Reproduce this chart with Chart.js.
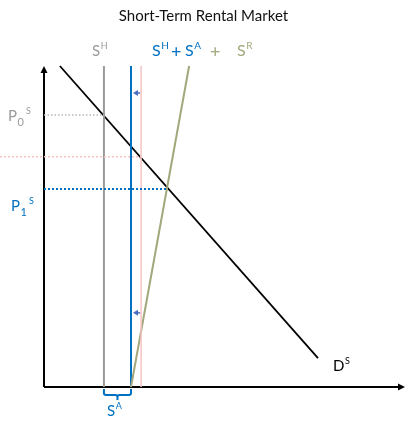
<!DOCTYPE html>
<html>
<head>
<meta charset="utf-8">
<script src="https://cdn.jsdelivr.net/npm/chart.js@4"></script>
<style>body{margin:0;background:#fff}</style>
</head>
<body>
<canvas id="chart" width="407" height="426"></canvas>
<script>
// quantity and price both in 0-10 chart units
const demand = [{x: 0.44, y: 10.0}, {x: 7.59, y: 0.9}];
const supplyH = [{x: 1.66, y: 0}, {x: 1.66, y: 10}];
const supplyHA = [{x: 2.41, y: 0}, {x: 2.41, y: 10}];
const supplyOld = [{x: 2.69, y: 0}, {x: 2.69, y: 10}];
const supplyR = [{x: 2.41, y: 0}, {x: 4.02, y: 10}];
const priceP0 = [{x: 0, y: 8.47}, {x: 1.66, y: 8.47}];
const priceOld = [{x: -1.22, y: 7.17}, {x: 2.69, y: 7.17}];
const priceP1 = [{x: 0, y: 6.17}, {x: 3.42, y: 6.17}];
const arrowLevels = [9.16, 2.31];

const BLUE = '#0070C0', GRAY = '#9a9a9a', PINK = '#f6c4c4', GREEN = '#a3a87c';
const FONT = 'Lato, "Open Sans", sans-serif';

function line(data, color, width, dash) {
    return {
        data: data,
        borderColor: color,
        borderWidth: width,
        borderDash: dash || [],
        pointRadius: 0,
        showLine: true,
        fill: false,
        clip: false,
        tension: 0
    };
}

// letter with a superscript and/or subscript
function supText(ctx, txt, sup, sub, px, py, size, color) {
    ctx.fillStyle = color;
    ctx.font = size + 'px ' + FONT;
    ctx.textBaseline = 'middle';
    ctx.textAlign = 'left';
    ctx.fillText(txt, px, py);
    let x = px + ctx.measureText(txt).width + 0.5;
    let end = x;
    if (sub) {
        ctx.font = Math.round(size * 0.72) + 'px ' + FONT;
        ctx.fillText(sub, x, py + size * 0.4);
        end = x + ctx.measureText(sub).width + 2;
    }
    if (sup) {
        ctx.font = Math.round(size * 0.62) + 'px ' + FONT;
        let sx = sub ? end : x;
        ctx.fillText(sup, sx, py - size * 0.3);
        end = sx + ctx.measureText(sup).width;
    }
    return end;
}

function plainText(ctx, txt, px, py, size, color) {
    ctx.fillStyle = color;
    ctx.font = size + 'px ' + FONT;
    ctx.textBaseline = 'middle';
    ctx.textAlign = 'left';
    ctx.fillText(txt, px, py);
}

const extras = {
    id: 'extras',
    beforeDatasetsDraw(chart) {
        const {ctx, scales: {x, y}} = chart;
        const x0 = x.getPixelForValue(0), y0 = y.getPixelForValue(0);
        const top = y.getPixelForValue(10);
        ctx.save();
        ctx.strokeStyle = '#000';
        ctx.fillStyle = '#000';
        ctx.lineWidth = 2;
        ctx.beginPath();
        ctx.moveTo(x0, y0); ctx.lineTo(x0, top + 4);
        ctx.moveTo(x0, y0); ctx.lineTo(chart.chartArea.right - 4, y0);
        ctx.stroke();
        // arrow heads
        ctx.beginPath();
        ctx.moveTo(x0, top); ctx.lineTo(x0 - 3.5, top + 7); ctx.lineTo(x0 + 3.5, top + 7);
        ctx.closePath(); ctx.fill();
        let r = chart.chartArea.right;
        ctx.beginPath();
        ctx.moveTo(r, y0); ctx.lineTo(r - 7, y0 - 3.5); ctx.lineTo(r - 7, y0 + 3.5);
        ctx.closePath(); ctx.fill();
        ctx.restore();
    },
    afterDatasetsDraw(chart) {
        const {ctx, scales: {x, y}} = chart;
        ctx.save();
        // small shift arrows from old supply to new
        ctx.strokeStyle = '#4a6fc0';
        ctx.fillStyle = '#4a6fc0';
        ctx.lineWidth = 1.5;
        arrowLevels.forEach(function (p) {
            let py = y.getPixelForValue(p);
            let xa = x.getPixelForValue(supplyHA[0].x) + 2;
            let xb = x.getPixelForValue(supplyOld[0].x) - 1;
            ctx.beginPath();
            ctx.moveTo(xb, py); ctx.lineTo(xa + 4, py); ctx.stroke();
            ctx.beginPath();
            ctx.moveTo(xa, py); ctx.lineTo(xa + 5, py - 3); ctx.lineTo(xa + 5, py + 3);
            ctx.closePath(); ctx.fill();
        });
        // brace under S^A
        let bl = x.getPixelForValue(supplyH[0].x), br = x.getPixelForValue(supplyHA[0].x);
        let by = y.getPixelForValue(0) + 2;
        let bm = (bl + br) / 2;
        ctx.strokeStyle = BLUE;
        ctx.lineWidth = 2;
        ctx.beginPath();
        ctx.moveTo(bl, by);
        ctx.lineTo(bl, by + 4);
        ctx.quadraticCurveTo(bl, by + 6, bl + 2, by + 6);
        ctx.lineTo(bm - 2, by + 6);
        ctx.quadraticCurveTo(bm, by + 6, bm, by + 8);
        ctx.lineTo(bm, by + 11);
        ctx.moveTo(bm, by + 8);
        ctx.quadraticCurveTo(bm, by + 6, bm + 2, by + 6);
        ctx.lineTo(br - 2, by + 6);
        ctx.quadraticCurveTo(br, by + 6, br, by + 4);
        ctx.lineTo(br, by);
        ctx.stroke();

        // title
        ctx.fillStyle = '#111';
        ctx.font = '15px ' + FONT;
        ctx.textAlign = 'center';
        ctx.textBaseline = 'middle';
        ctx.fillText('Short-Term Rental Market', chart.width / 2, 16);

        supText(ctx, 'S', 'H', null, 92, 51, 15, GRAY);
        supText(ctx, 'S', 'H', null, 152, 51, 16, BLUE);
        plainText(ctx, '+', 171, 52, 18, BLUE);
        supText(ctx, 'S', 'A', null, 185, 51, 16, BLUE);
        plainText(ctx, '+', 210, 52, 18, GREEN);
        supText(ctx, 'S', 'R', null, 237, 51, 16, GREEN);
        supText(ctx, 'P', 'S', '0', 8, 116, 15, GRAY);
        supText(ctx, 'P', 'S', '1', 11, 206, 15, BLUE);
        supText(ctx, 'D', 'S', null, 333, 366, 15, '#000');
        supText(ctx, 'S', 'A', null, 107, 411, 15, BLUE);
        ctx.restore();
    }
};

const config = {
    type: 'scatter',
    data: {
        datasets: [
            line(priceOld, PINK, 1.5, [2, 2]),
            line(priceP0, '#b8b8b8', 1.5, [1.5, 2]),
            line(priceP1, BLUE, 2, [2, 2]),
            line(supplyOld, PINK, 1.5),
            line(supplyH, GRAY, 2),
            line(supplyR, GREEN, 2),
            line(supplyHA, BLUE, 2),
            line(demand, '#000', 1.8)
        ]
    },
    options: {
        responsive: false,
        animation: false,
        layout: {
            padding: {top: 66, right: 2, bottom: 39, left: 44}
        },
        scales: {
            x: {type: 'linear', min: 0, max: 10, display: false},
            y: {type: 'linear', min: 0, max: 10, display: false}
        },
        plugins: {
            legend: {display: false},
            tooltip: {enabled: false}
        }
    },
    plugins: [extras]
};

var myChart = new Chart(document.getElementById('chart'), config);
</script>
</body>
</html>
